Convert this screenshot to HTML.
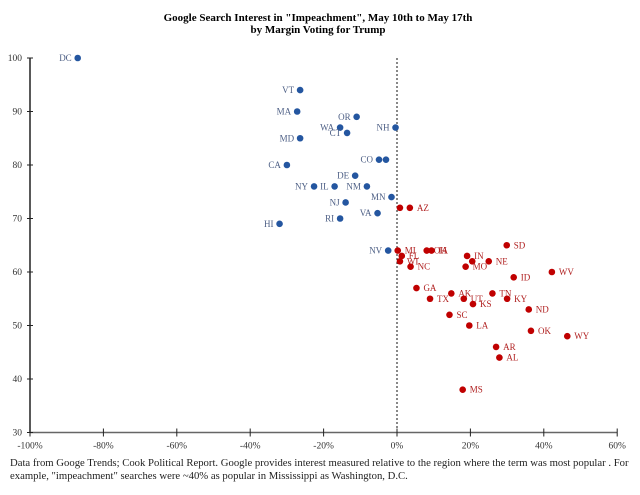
<!DOCTYPE html>
<html><head><meta charset="utf-8"><style>
body{margin:0;background:#fff;}
svg{display:block;font-family:"Liberation Serif",serif;}
</style></head><body>
<svg id="chart" width="640" height="495">
<text x="318" y="21" text-anchor="middle" font-size="11" font-weight="bold">Google Search Interest in "Impeachment", May 10th to May 17th</text>
<text x="318" y="33" text-anchor="middle" font-size="11" font-weight="bold">by Margin Voting for Trump</text>
<g id="axes"></g>
<g id="marks"></g>
<text x="10" y="466" font-size="10.7" fill="#222">Data from Googe Trends; Cook Political Report.  Google provides interest measured relative to the region where the term was most popular .  For</text>
<text x="10" y="479" font-size="10.7" fill="#222">example, "impeachment" searches were ~40% as popular in Mississippi as Washington, D.C.</text>
</svg>
<script>
const states = ["DC","VT","MA","OR","WA","CT","NH","MD","CO","ME","CA","DE","NY","IL","NM","MN","NJ","VA","RI","HI","NV",
"PA","AZ","MI","FL","WI","NC","OH","IA","SD","IN","MT","NE","MO","ID","WV","GA","AK","TN","TX","UT","KY","KS","ND","SC","LA","OK","WY","AR","AL","MS"];
const margins = [-87,-26.4,-27.2,-11,-15.5,-13.6,-0.4,-26.4,-4.9,-3,-30,-11.4,-22.6,-17,-8.2,-1.5,-14,-5.3,-15.5,-32,-2.4,
0.8,3.5,0.2,1.3,0.8,3.7,8.1,9.4,29.9,19.1,20.5,25,18.7,31.8,42.2,5.3,14.8,26,9,18.2,30,20.7,35.9,14.3,19.7,36.5,46.4,27,27.9,17.9];
const interest = [100,94,90,89,87,86,87,85,81,81,80,78,76,76,76,74,73,71,70,69,64,
72,72,64,63,62,61,64,64,65,63,62,62,61,59,60,57,56,56,55,55,55,54,53,52,50,49,48,46,44,38];
const xTicks = [-100,-80,-60,-40,-20,0,20,40,60];
const yTicks = [30,40,50,60,70,80,90,100];
const hiddenLabels = ["PA","ME","MT"];

const NS="http://www.w3.org/2000/svg";
const x = v => 397 + v*3.67;
const y = v => 58 + (100-v)*5.35;
function mk(tag, attrs, parent){const e=document.createElementNS(NS,tag);for(const k in attrs)e.setAttribute(k,attrs[k]);parent.appendChild(e);return e;}
const axes=document.getElementById('axes'), marks=document.getElementById('marks');

let a=mk('line',{x1:30,y1:y(100),x2:30,y2:y(30),stroke:'#222','stroke-width':1.5},axes);


a=mk('line',{x1:30,y1:y(30),x2:x(60),y2:y(30),stroke:'#666','stroke-width':1.5},axes);


a=mk('line',{x1:x(0),y1:y(100),x2:x(0),y2:y(30),stroke:'#111','stroke-width':1,'stroke-dasharray':'2,2'},axes);


yTicks.forEach(t=>{
  let l=mk('line',{x1:27,y1:y(t),x2:33,y2:y(t),stroke:'#222'},axes);
  
  
  let tx=mk('text',{x:22,y:y(t)+3,'text-anchor':'end','font-size':9.5,fill:'#333'},axes);
  tx.textContent=t;
  
  
});
xTicks.forEach(t=>{
  let l=mk('line',{x1:x(t),y1:y(30)-4,x2:x(t),y2:y(30)+4,stroke:'#222'},axes);
  
  
  let tx=mk('text',{x:x(t),y:y(30)+16,'text-anchor':'middle','font-size':9.5,fill:'#333'},axes);
  tx.textContent=t+'%';
  
  
});
states.forEach((s,i)=>{
  const m=margins[i], v=interest[i], blue=m<0;
  let c=mk('circle',{cx:x(m),cy:y(v),r:3.3,fill:blue?'#2456a0':'#c00000'},marks);
  
  
  if(hiddenLabels.includes(s))return;
  let t=mk('text',{x:blue?x(m)-6:x(m)+7,y:y(v)+3,'text-anchor':blue?'end':'start','font-size':9,fill:blue?'#4d5f85':'#b02020'},marks);
  t.textContent=s;
  
  
});
</script>
</body></html>
